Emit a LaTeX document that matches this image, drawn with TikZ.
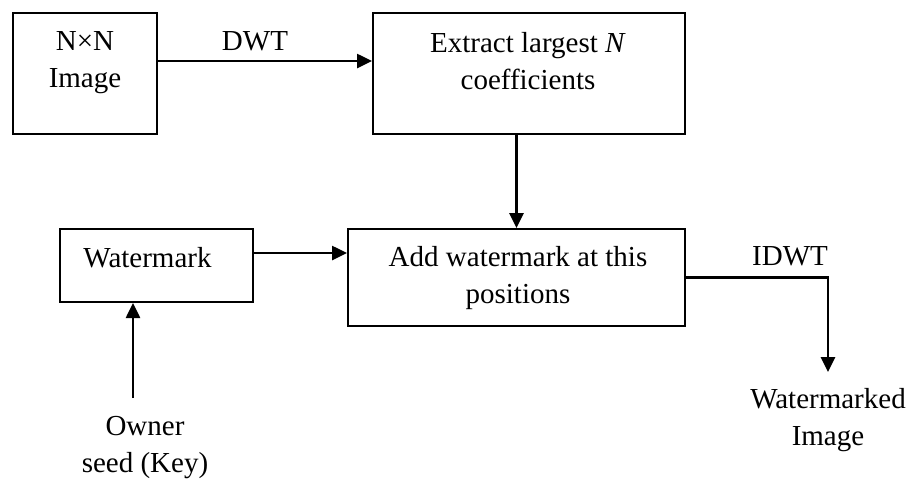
\documentclass[tikz,border=0pt]{standalone}
\usepackage{fontspec}
\setmainfont{Liberation Serif}
\usepackage{tikz}
\usetikzlibrary{positioning, arrows.meta}

\begin{document}
\begin{tikzpicture}[x=0.5pt, y=-0.5pt,
		every node/.style={font=\fontsize{14.5}{18.5}\selectfont, align=center},
		blockbox/.style={draw, rectangle, line width=1pt, inner sep=0pt},
		arr/.style={-{Triangle[length=7.5pt, width=7pt]}, line width=1.3pt}]
		\useasboundingbox (0,0) rectangle (911,479);

		% Nodes
		\node (img) [blockbox, minimum width=72pt, minimum height=60.5pt] at (85,73.5) {};
		\node (imgtext) at (85,63) {N×N\\Image};
		\node (extract) [blockbox, minimum width=156pt, minimum height=60.5pt] at (529,73.5) {};
		\node (extracttext) at (528,61.5) {Extract largest \textit{N}\\coefficients};
		\node (add) [blockbox, minimum width=168.5pt, minimum height=48.5pt] at (516.5,277.5) {};
		\node (addtext) at (518,278.5) {Add watermark at this\\positions};
		\node (wm) [blockbox, minimum width=96.5pt, minimum height=36.5pt] at (156.5,265.5) {};
		\node (wmtext) [anchor=base] at (147.5,267) {Watermark};
		\node (owner) at (145,448) {Owner\\seed (Key)};
		\node (wmimg) at (828,420) {Watermarked\\Image};
		\node (dwt) [anchor=base] at (255,50) {DWT};
		\node (idwt) [anchor=base] at (790,265) {IDWT};
		\coordinate (seedtop) at (133,398);
		\coordinate (outend) at (828,372);

		% Arrows
		\draw[arr] ([yshift=6.25pt]img.east) -- ([yshift=6.25pt]extract.west);
		\draw[arr] (extract.south -| add.north) -- (add.north);
		\draw[arr] ([yshift=6.25pt]wm.east) -- ([yshift=6.25pt]wm.east -| add.west);
		\draw[arr] (seedtop) -- (seedtop |- wm.south);
		\draw[arr] (add.east) -| (outend);
	\end{tikzpicture}
\end{document}
